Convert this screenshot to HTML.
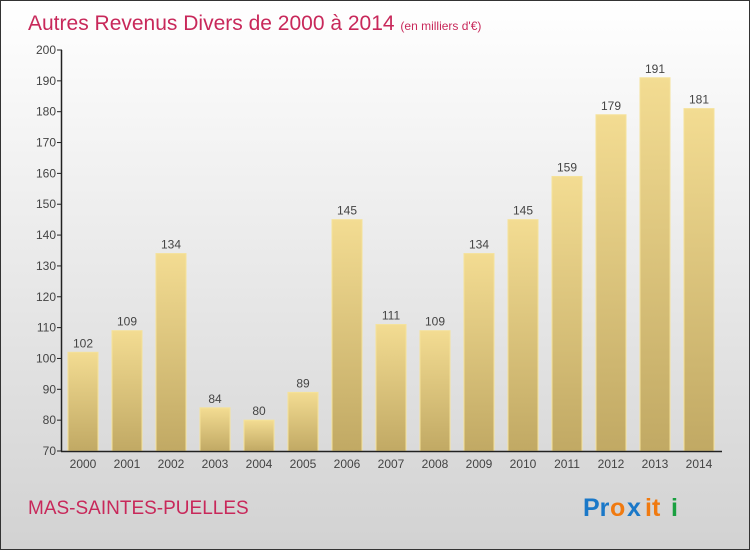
<!DOCTYPE html>
<html><head><meta charset="utf-8"><style>
body{margin:0}
#c{width:748px;height:548px;border:1px solid #333;background:linear-gradient(#ffffff,#d2d2d2);position:relative;font-family:"Liberation Sans",sans-serif;overflow:hidden}
</style></head><body>
<div id="c">
<svg width="748" height="548" style="position:absolute;left:0;top:0" id="svg">
<defs><linearGradient id="bg" x1="0" y1="0" x2="0" y2="1"><stop offset="0" stop-color="#f3dc92"/><stop offset="1" stop-color="#c1a964"/></linearGradient></defs>
<text x="27" y="29" font-size="21" fill="#c8285a">Autres Revenus Divers de 2000 à 2014 <tspan font-size="12">(en milliers d'€)</tspan></text>
<text x="27" y="513" font-size="19" fill="#c8285a">MAS-SAINTES-PUELLES</text>
<g font-size="25" font-weight="bold">
<text x="582" y="515" fill="#1a78c8">Pr</text><text x="609" y="515" fill="#f07a10">o</text><text x="626" y="515" fill="#1a78c8">x</text><text x="644" y="515" fill="#f07a10">it</text><text x="670" y="515" fill="#1aa040">i</text>
</g>
<g id="plot"></g>
</svg>
</div>
<script>
const years=["2000","2001","2002","2003","2004","2005","2006","2007","2008","2009","2010","2011","2012","2013","2014"];
const values=[102,109,134,84,80,89,145,111,109,134,145,159,179,191,181];
const ticks=[70,80,90,100,110,120,130,140,150,160,170,180,190,200];
const NS="http://www.w3.org/2000/svg";
const g=document.getElementById('plot');
const y=v=>450-(v-70)*(401/130);
const x=i=>60+44*i;
function mk(t,a,txt){const e=document.createElementNS(NS,t);for(const k in a)e.setAttribute(k,a[k]);if(txt!=null)e.textContent=txt;g.appendChild(e);return e;}
values.forEach((v,i)=>{
 const r=mk('rect',{x:x(i)+7,y:y(v),width:30,height:450-y(v),fill:'url(#bg)',stroke:'#f5e29a','stroke-width':1});
 
 
 const t=mk('text',{x:x(i)+22,y:y(v)-5,'font-size':12,fill:'#444','text-anchor':'middle'},String(v));
 
 
 const xl=mk('text',{x:x(i)+22,y:467,'font-size':12,fill:'#444','text-anchor':'middle'},years[i]);
 
 
});
ticks.forEach(v=>{
 const l=mk('line',{x1:56,x2:61,y1:y(v),y2:y(v),stroke:'#222'});
 
 
 const t=mk('text',{x:55,y:y(v)+4,'font-size':12,fill:'#444','text-anchor':'end'},String(v));
 
 
});
const ya=mk('line',{x1:60.5,x2:60.5,y1:y(200),y2:450,stroke:'#222','stroke-width':1.5});


const xa=mk('line',{x1:60,x2:721,y1:450.5,y2:450.5,stroke:'#222','stroke-width':1.5});


</script>
</body></html>
